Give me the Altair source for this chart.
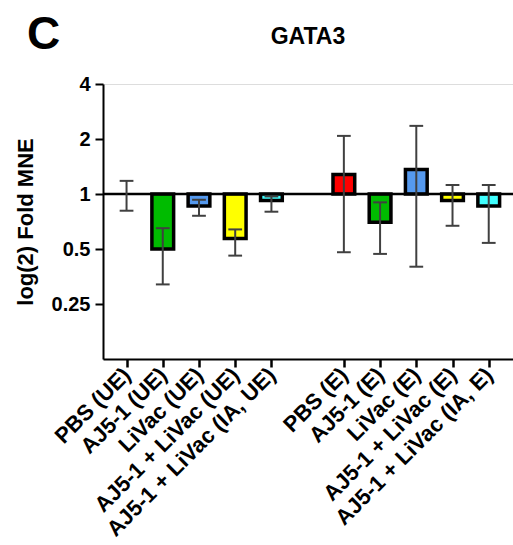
import altair as alt
import pandas as pd

# Groups along the x axis; slot 5 is left empty between the two blocks
labels = ["PBS (UE)", "AJ5-1 (UE)", "LiVac (UE)", "AJ5-1 + LiVac (UE)", "AJ5-1 + LiVac (IA, UE)",
          "PBS (E)", "AJ5-1 (E)", "LiVac (E)", "AJ5-1 + LiVac (E)", "AJ5-1 + LiVac (IA, E)"]
slots = [0, 1, 2, 3, 4, 6, 7, 8, 9, 10]
fold = [1.0, 0.50, 0.86, 0.57, 0.92, 1.28, 0.70, 1.36, 0.92, 0.86]
err_hi = [1.18, 0.65, 0.93, 0.64, 0.97, 2.08, 0.90, 2.36, 1.12, 1.12]
err_lo = [0.81, 0.32, 0.76, 0.46, 0.80, 0.48, 0.47, 0.40, 0.67, 0.54]
colors = ["#ffffff", "#00bb00", "#5599ee", "#ffff00", "#40ffff",
          "#ff0000", "#00bb00", "#5599ee", "#ffff00", "#40ffff"]

HALF = 0.30   # half bar width, in slot units
CAP = 0.19    # half cap width, in slot units
FONT = "Liberation Sans"
W, H = 410, 275

df = pd.DataFrame({
    "label": labels, "slot": slots, "fold": fold,
    "hi": err_hi, "lo": err_lo, "color": colors,
})
df["base"] = 1.0
df["x0"] = df["slot"] - HALF
df["x1"] = df["slot"] + HALF
df["c0"] = df["slot"] - CAP
df["c1"] = df["slot"] + CAP

label_expr = "{" + ", ".join(f"'{s}': '{l}'" for s, l in zip(slots, labels)) + "}[datum.value]"

xscale = alt.Scale(domain=[-0.65, 10.67], nice=False, zero=False)
yscale = alt.Scale(type="log", base=2, domain=[0.125, 4], nice=False)

x_axis = alt.Axis(
    values=slots, labelExpr=label_expr, title=None, grid=False,
    labelAngle=-45, labelAlign="right", labelBaseline="middle",
    labelFont=FONT, labelFontSize=22, labelFontWeight="bold", labelColor="black",
    labelPadding=4, labelOverlap=False, labelLimit=400,
    domainColor="black", domainWidth=2, tickColor="black", tickWidth=2.5, tickSize=8,
)
y_axis = alt.Axis(
    values=[0.25, 0.5, 1, 2, 4], format="~g", title="log(2) Fold MNE", grid=False,
    labelFont=FONT, labelFontSize=20, labelFontWeight="bold", labelColor="black",
    titleFont=FONT, titleFontSize=22, titleFontWeight="bold", titleColor="black",
    titlePadding=14, domainColor="black", domainWidth=2,
    tickColor="black", tickWidth=2, tickSize=8, labelPadding=5,
)

base = alt.Chart(df)

bars = base.transform_filter("datum.slot != 0").mark_bar(
    stroke="black", strokeWidth=3.5
).encode(
    x=alt.X("x0:Q", scale=xscale, axis=x_axis),
    x2="x1:Q",
    y=alt.Y("fold:Q", scale=yscale, axis=y_axis),
    y2="base:Q",
    fill=alt.Fill("color:N", scale=None),
)

err = base.mark_rule(color="#404040", strokeWidth=2).encode(
    x=alt.X("slot:Q", scale=xscale), y=alt.Y("lo:Q", scale=yscale), y2="hi:Q"
)
cap_hi = base.mark_rule(color="#404040", strokeWidth=2).encode(
    x=alt.X("c0:Q", scale=xscale), x2="c1:Q", y=alt.Y("hi:Q", scale=yscale)
)
cap_lo = base.mark_rule(color="#404040", strokeWidth=2).encode(
    x=alt.X("c0:Q", scale=xscale), x2="c1:Q", y=alt.Y("lo:Q", scale=yscale)
)

# reference line at fold change 1 across the whole plot
ref = alt.Chart(pd.DataFrame({"v": [1.0]})).mark_rule(color="black", strokeWidth=2.5).encode(
    y=alt.Y("v:Q", scale=yscale), x=alt.value(0), x2=alt.value(W)
)

# panel letter and gene title
texts = alt.Chart(pd.DataFrame({"t": ["C", "GATA3"]}))
panel = texts.transform_filter("datum.t == 'C'").mark_text(
    font=FONT, fontSize=46, fontWeight="bold", color="black", align="left", baseline="alphabetic"
).encode(text="t:N", x=alt.value(-76), y=alt.value(-35))
gene = texts.transform_filter("datum.t == 'GATA3'").mark_text(
    font=FONT, fontSize=23, fontWeight="bold", color="black", align="center", baseline="middle"
).encode(text="t:N", x=alt.value(W / 2), y=alt.value(-47))

chart = alt.layer(bars, ref, err, cap_hi, cap_lo, panel, gene).properties(
    width=W, height=H,
    autosize=alt.AutoSizeParams(type="none"),
    padding={"left": 103, "top": 84, "right": 0, "bottom": 186},
).configure_view(stroke="transparent", strokeWidth=0).configure(background="white")

chart.save("out.html", embed_options={"renderer": "svg", "actions": False})
